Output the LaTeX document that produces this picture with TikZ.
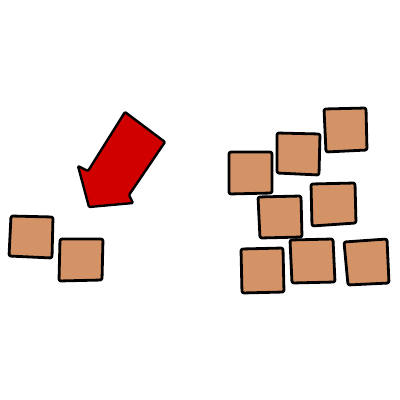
\documentclass[tikz,border=0pt]{standalone}
\usetikzlibrary{calc}
\definecolor{brick}{RGB}{212,147,102}
\definecolor{arrowred}{RGB}{208,0,0}
\tikzset{
  block/.style={draw=black,fill=brick,line width=2.8pt,rounded corners=2pt,line join=round},
  bigarrow/.style={draw=black,fill=arrowred,line width=2.4pt,rounded corners=1pt,line join=round}
}
\begin{document}
\begin{tikzpicture}[x=1pt,y=-1pt]
\useasboundingbox[fill=white] (0,0) rectangle (400,400);
% big red arrow
\draw[bigarrow] (125,112) -- (165,142) -- (129,195) -- (133,203) -- (89,207) -- (78,166) -- (88,171) -- cycle;
% left blocks
\draw[block] (11,216) -- (53,217) -- (52,258) -- (9,256) -- cycle;
\draw[block] (60,239) -- (103,239) -- (102,280) -- (59,281) -- cycle;
% right blocks
\draw[block] (324,109) -- (366,108) -- (367,150) -- (326,152) -- cycle;
\draw[block] (277,133) -- (320,134) -- (319,175) -- (277,173) -- cycle;
\draw[block] (229,152) -- (272,152) -- (272,193) -- (229,194) -- cycle;
\draw[block] (258,197) -- (301,196) -- (302,237) -- (260,238) -- cycle;
\draw[block] (311,184) -- (355,183) -- (356,223) -- (312,226) -- cycle;
\draw[block] (241,249) -- (283,248) -- (284,292) -- (242,293) -- cycle;
\draw[block] (290,240) -- (333,239) -- (335,282) -- (292,283) -- cycle;
\draw[block] (344,242) -- (387,239) -- (389,283) -- (348,285) -- cycle;
\end{tikzpicture}
\end{document}
